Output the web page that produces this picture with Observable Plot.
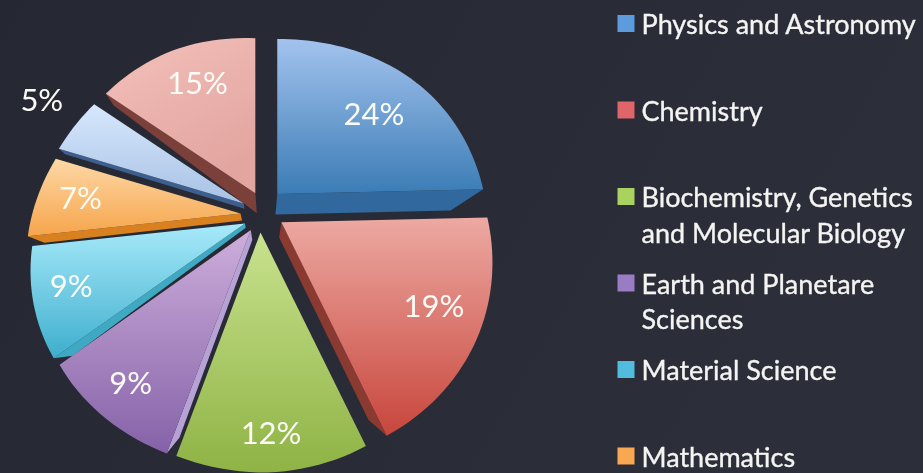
<!DOCTYPE html>
<html>
<head>
<meta charset="utf-8">
<script src="https://cdn.jsdelivr.net/npm/d3@7"></script>
<script src="https://cdn.jsdelivr.net/npm/@observablehq/plot@0.6"></script>
<style>
  html, body { margin: 0; padding: 0; background: #272a34; }
  svg { display: block; filter: blur(0.5px); }
</style>
</head>
<body>
<script>
// ---- data ----
const shares = [24, 19, 12, 9, 9, 7, 5, 15];
const legendLabels = [
  "Physics and Astronomy",
  "Chemistry",
  "Biochemistry, Genetics\nand Molecular Biology",
  "Earth and Planetare\nSciences",
  "Material Science",
  "Mathematics"
];

// ---- styling ----
const topColors = ["#a3c3ee", "#eca9a2", "#c8e28e", "#cdaedb", "#a8eafa", "#fdd8a6", "#d6e8fd", "#f3c0bb"];
const bottomColors = ["#3b7cb5", "#c8463c", "#8fb345", "#8562a8", "#3eaecd", "#f6a54b", "#a8c1e4", "#e3a5a0"];
const sideColors = ["#31689d", "#8a3a30", "#7d9a3c", "#b7a2d6", "#3fa9c3", "#d9811f", "#3d5f8e", "#7b4039"];
const swatchColors = ["#5b9bde", "#e0656a", "#a9d25f", "#9a7cc4", "#52bcdd", "#f8a850"];

// ---- layout of the tilted pie ----
const center = [260, 212];
const explode = [25, 23, 20, 20, 19, 20, 19, 20];
const explodeTurn = [42, 115, 180, 209, 235, 267, 298, 345];
const vanish = [265, 330];
const cornerDepth = [0.15, 0.15, 0, 0.13, 0.09, 0.07, 0.03, 0.05];
const apexDepth = [0.15, 0.14, 0, 0.10, 0.04, 0.06, 0.04, 0.146];
const labelTurn = [51, 119, 177, 218, 250, 275, 297, 332];
const labelRadius = [0.70, 0.77, 0.84, 0.82, 0.82, 0.79, 1.23, 0.753];
const rad = (d) => d * Math.PI / 180;
const reach = (t) => 203.75 - 42.5 * Math.cos(rad(t)) - 6.25 * Math.cos(rad(2 * t))
  + 4.5 * Math.max(0, -Math.sin(rad(t))) * Math.cos(rad(3 * (t - 232)))
  - 3 * Math.pow(Math.max(0, Math.sin(rad(t))), 8);
// the tilt of the disc slightly skews angles on screen
const skew = (t) => t + 2.5 * Math.sin(rad(2 * t)) + 2 * Math.max(0, Math.sin(rad(t)))
  + (t > 180 ? 2 * Math.max(0, Math.sin(rad(2 * t))) : 0);

const total = d3.sum(shares);
const cumulative = d3.cumsum(shares);
const slices = shares.map((share, i) => {
  const start = (i ? cumulative[i - 1] : 0) / total * 360;
  const end = cumulative[i] / total * 360;
  const mid = (start + end) / 2;
  const apex = [
    center[0] + explode[i] * Math.sin(rad(explodeTurn[i])),
    center[1] - explode[i] * Math.cos(rad(explodeTurn[i]))
  ];
  const at = (t, rho = 1) => [apex[0] + rho * reach(t) * Math.sin(rad(t)), apex[1] - rho * reach(t) * Math.cos(rad(t))];
  return {i, share, start, end, mid, apex, at};
});
const toward = (p, k) => [p[0] + k * (vanish[0] - p[0]), p[1] + k * (vanish[1] - p[1])];

// top surfaces
const tops = slices.flatMap((s) => {
  const pts = [{s: s.i, p: s.apex}];
  const n = Math.max(2, Math.ceil((s.end - s.start) / 2));
  for (const t of d3.range(n + 1)) pts.push({s: s.i, p: s.at(skew(s.start + (s.end - s.start) * t / n))});
  return pts;
});
// visible side walls
const sides = slices.flatMap((s) => {
  const corner = s.at(skew(s.mid < 180 ? s.end : s.start));
  return [s.apex, corner, toward(corner, cornerDepth[s.i]), toward(s.apex, apexDepth[s.i])].map((p) => ({s: s.i, p}));
});

const legendRows = legendLabels.map((label, i) => ({label, i, y: 25 + 86.5 * i}));

function defs() {
  const d = d3.create("svg:defs");
  const bg = d.append("linearGradient").attr("id", "bg").attr("x1", 0).attr("y1", 0).attr("x2", 1).attr("y2", 0.3);
  bg.append("stop").attr("offset", 0).attr("stop-color", "#252832");
  bg.append("stop").attr("offset", 1).attr("stop-color", "#2c2e39");
  slices.forEach((s) => {
    const g = d.append("linearGradient").attr("id", `g${s.i}`).attr("x1", 0).attr("y1", 0).attr("x2", s.i === 7 ? 0.5 : 0).attr("y2", 1);
    g.append("stop").attr("offset", 0).attr("stop-color", topColors[s.i]);
    g.append("stop").attr("offset", 1).attr("stop-color", bottomColors[s.i]);
  });
  return d.node();
}

const plot = Plot.plot({
  width: 923,
  height: 473,
  margin: 0,
  x: {domain: [0, 923], range: [0, 923], axis: null},
  y: {domain: [0, 473], range: [0, 473], axis: null},
  color: {type: "identity"},
  style: {background: "#272a34"},
  marks: [
    defs,
    Plot.rect([0], {x1: 0, x2: 923, y1: 0, y2: 473, fill: "url(#bg)"}),
    Plot.line(sides, {x: (d) => d.p[0], y: (d) => d.p[1], z: "s", fill: (d) => sideColors[d.s], stroke: "none"}),
    Plot.line(tops, {x: (d) => d.p[0], y: (d) => d.p[1], z: "s", fill: (d) => `url(#g${d.s})`, stroke: "none"}),
    Plot.text(slices, {
      x: (s) => s.at(labelTurn[s.i], labelRadius[s.i])[0],
      y: (s) => s.at(labelTurn[s.i], labelRadius[s.i])[1],
      text: (s) => `${s.share}%`,
      fill: "#fbfbf6",
      fontSize: 31,
      fontFamily: "Lato"
    }),
    Plot.dot(legendRows, {
      x: 625.5,
      y: (d) => d.y - 2,
      symbol: "square",
      r: 9.6,
      fill: (d) => swatchColors[d.i],
      stroke: "none"
    }),
    Plot.text(legendRows, {
      x: 641,
      y: (d) => d.y - 16,
      text: "label",
      textAnchor: "start",
      lineAnchor: "top",
      lineHeight: 1.3,
      fill: "#f4f4f2",
      stroke: "#f4f4f2",
      strokeWidth: 0.35,
      fontSize: 27,
      fontFamily: "Lato"
    })
  ]
});
document.body.append(plot);
</script>
</body>
</html>
